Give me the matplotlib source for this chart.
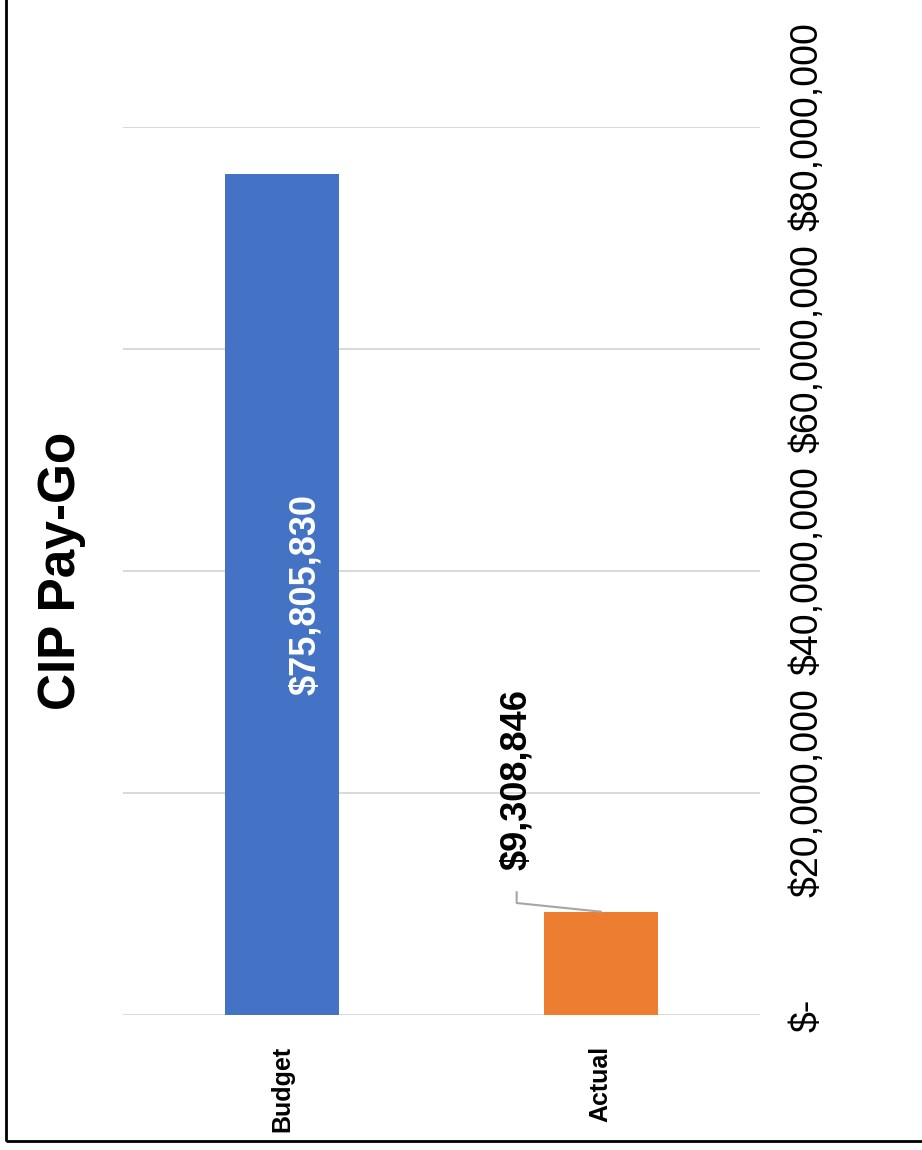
import matplotlib
matplotlib.use("Agg")
import matplotlib.pyplot as plt
from matplotlib import font_manager
from matplotlib.patches import Rectangle

# --- Data ---
categories = ["Budget", "Actual"]
values = [75805830, 9308846]
bar_colors = ["#4472C4", "#ED7D31"]
y_ticks = [0, 20000000, 40000000, 60000000, 80000000]
title = "CIP Pay-Go"

# pick a narrow font for value axis labels if available
names = {f.name for f in font_manager.fontManager.ttflist}
if "Liberation Sans Narrow" in names:
    tick_family, tick_size = "Liberation Sans Narrow", 30
else:
    tick_family, tick_size = "Liberation Sans", 27

plt.rcParams["font.family"] = ["Liberation Sans", "DejaVu Sans"]

fig = plt.figure(figsize=(9.22, 11.5), dpi=100)
W, H = 922, 1150
ax = fig.add_axes([123 / W, 1 - 1015 / H, (760 - 123) / W, (1015 - 127) / H])

x = list(range(len(categories)))
ax.bar(x, values, width=0.358, color=bar_colors, zorder=3)

ax.set_xlim(-0.5, len(categories) - 0.5)
ax.set_ylim(0, 80000000)
ax.set_yticks(y_ticks)
ax.set_yticklabels(["$-" if t == 0 else "${:,.0f}".format(t) for t in y_ticks],
                   rotation=90, va="center", family=tick_family, fontsize=tick_size)
ax.yaxis.tick_right()
ax.tick_params(axis="y", length=0, pad=21)

ax.set_xticks(x)
ax.set_xticklabels(categories, rotation=90, fontsize=18, fontweight="bold")
ax.tick_params(axis="x", length=0, pad=22)

ax.yaxis.grid(True, color="#D9D9D9", linewidth=1.4, zorder=0)
for s in ax.spines.values():
    s.set_visible(False)

# data label inside Budget bar
ax.annotate("${:,.0f}".format(values[0]), xy=(0, values[0] / 2), xytext=(17, 0),
            textcoords="offset points", rotation=90, ha="center", va="center",
            color="white", fontsize=26, fontweight="bold", zorder=4)

# data label above Actual bar with a leader line
lab_x = 1 - 0.264
lab_y = values[1] + 11.9e6
ax.text(lab_x, lab_y, "${:,.0f}".format(values[1]), rotation=90, ha="center",
        va="center", color="black", fontsize=26, fontweight="bold", zorder=4)
ax.plot([lab_x, lab_x, 1], [values[1] + 1.75e6, values[1] + 0.78e6, values[1]],
        color="#A6A6A6", linewidth=1.5, zorder=4, clip_on=False)

# chart title, rotated
fig.text(62 / W, 1 - 571 / H, title, rotation=90, ha="center", va="center",
         fontsize=37, fontweight="bold")

# outer frame
fig.patches.append(Rectangle((6 / W, 1 - 1141 / H), 1.2, 1.2, transform=fig.transFigure,
                             fill=False, edgecolor="black", linewidth=2))

fig.savefig("out.png", dpi=100, facecolor="white")
